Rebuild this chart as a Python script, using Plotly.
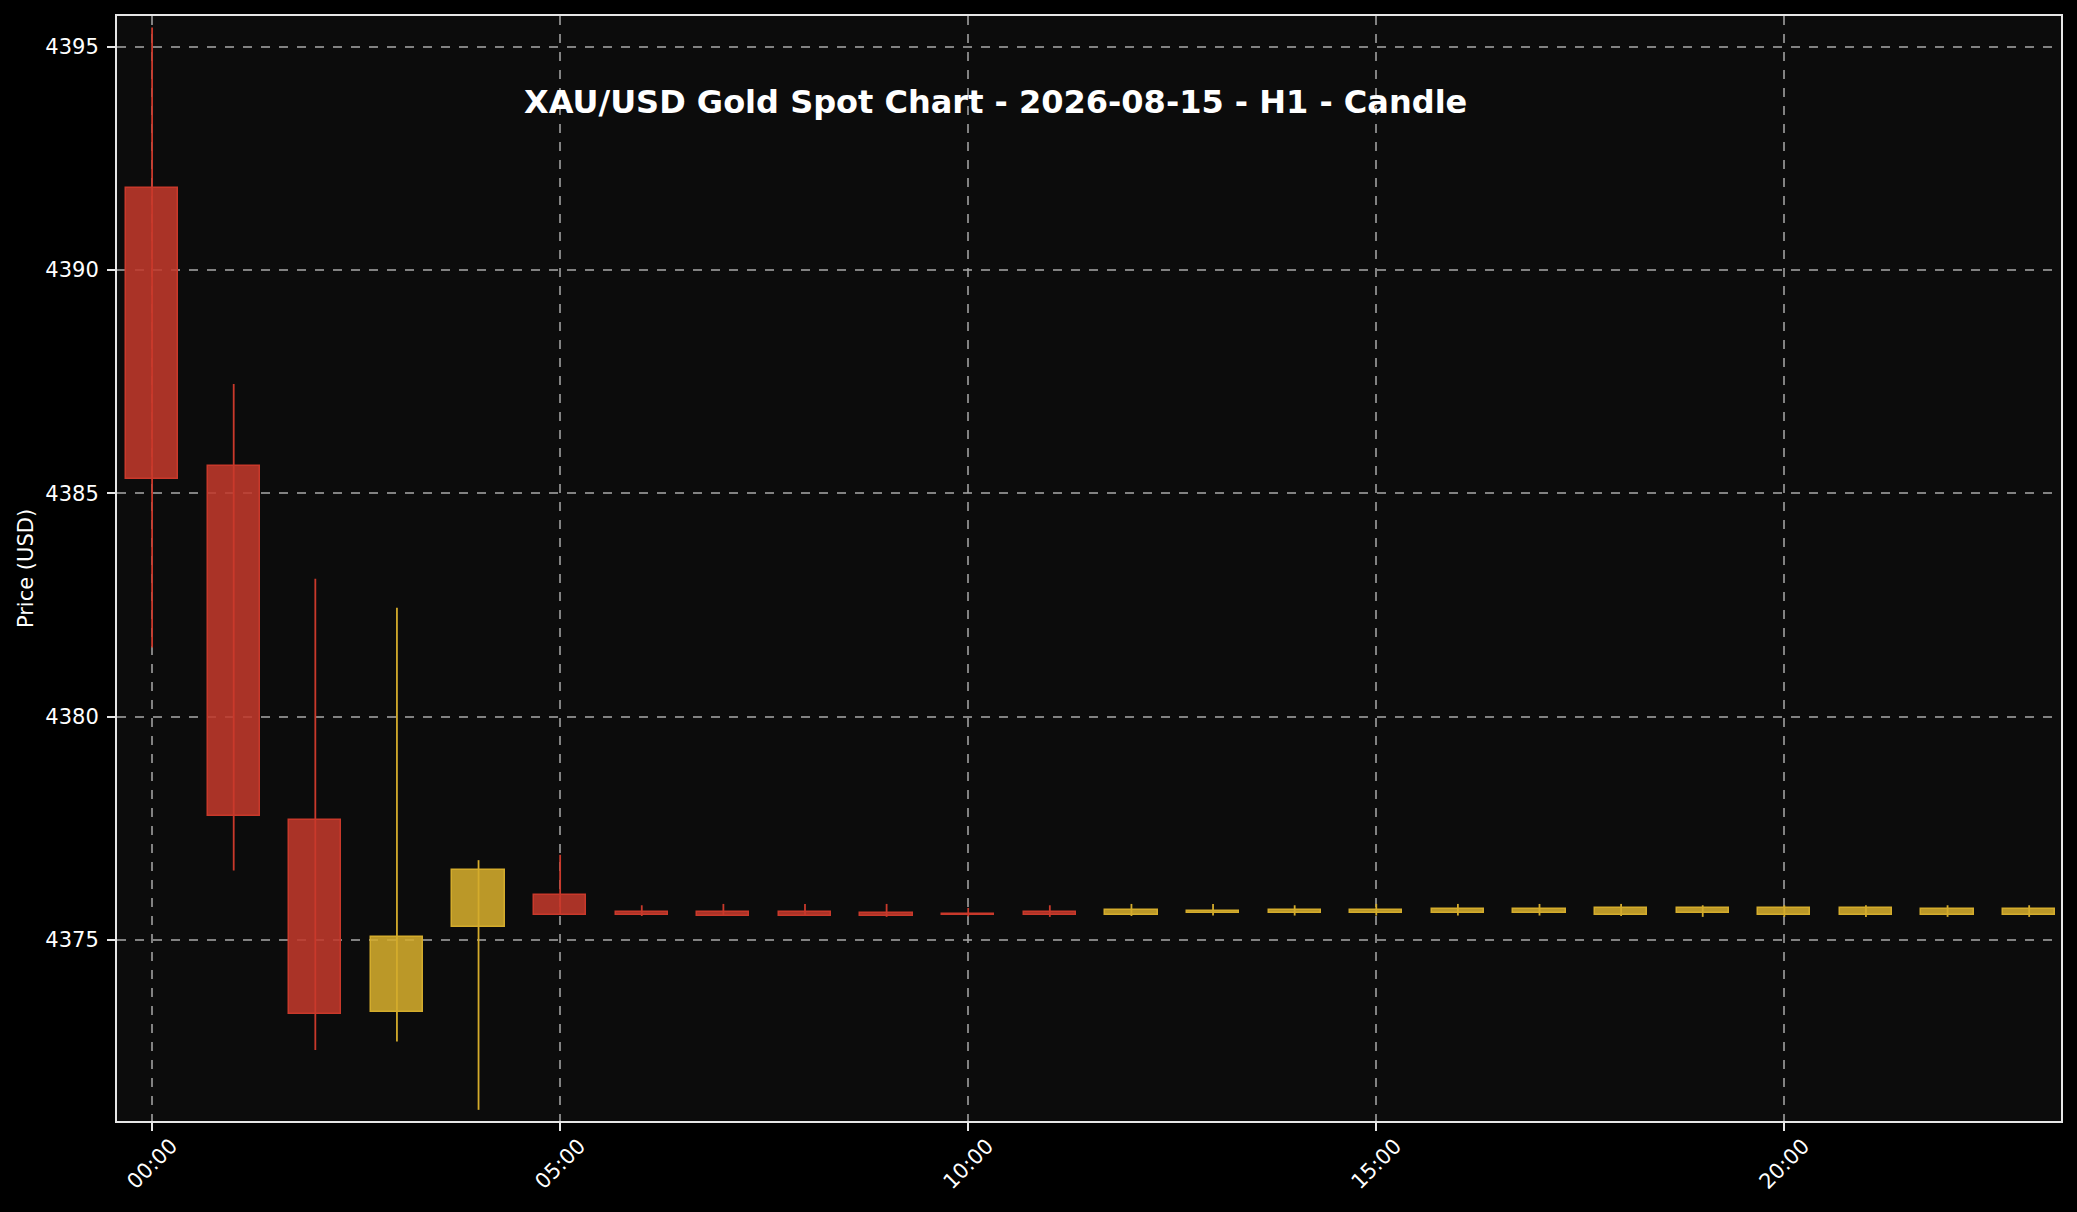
import numpy as np
import plotly.graph_objects as go

# hourly candles, 2026-08-15
hours = ["%02d:00" % h for h in range(24)]
open_ = [4391.83, 4385.61, 4377.70, 4373.39, 4375.29, 4376.02, 4375.63, 4375.63,
         4375.63, 4375.60, 4375.59, 4375.62, 4375.56, 4375.60, 4375.60, 4375.60,
         4375.60, 4375.60, 4375.56, 4375.60, 4375.56, 4375.56, 4375.56, 4375.56]
high = [4395.43, 4387.45, 4383.09, 4382.44, 4376.79, 4376.91, 4375.78, 4375.81,
        4375.81, 4375.81, 4375.72, 4375.78, 4375.81, 4375.81, 4375.78, 4375.81,
        4375.81, 4375.81, 4375.81, 4375.78, 4375.78, 4375.78, 4375.78, 4375.78]
low = [4381.55, 4376.56, 4372.54, 4372.73, 4371.20, 4375.57, 4375.54, 4375.54,
       4375.54, 4375.52, 4375.53, 4375.52, 4375.54, 4375.55, 4375.55, 4375.55,
       4375.55, 4375.55, 4375.54, 4375.52, 4375.52, 4375.52, 4375.52, 4375.52]
close = [4385.33, 4377.77, 4373.34, 4375.07, 4376.58, 4375.57, 4375.57, 4375.54,
         4375.54, 4375.54, 4375.57, 4375.57, 4375.67, 4375.65, 4375.67, 4375.67,
         4375.69, 4375.69, 4375.71, 4375.71, 4375.71, 4375.71, 4375.69, 4375.69]
tick_hours = ["00:00", "05:00", "10:00", "15:00", "20:00"]

UP_LINE = "#d4ac2c"
UP_FILL = "rgba(212,172,44,0.88)"
DN_LINE = "#c9392b"
DN_FILL = "rgba(192,57,43,0.88)"
FONT = "DejaVu Sans"

o = np.array(open_)
c = np.array(close)
up = c >= o

fig = go.Figure()

for mask, col in [(up, UP_LINE), (~up, DN_LINE)]:
    wx, wy = [], []
    for i in np.where(mask)[0]:
        wx += [hours[i], hours[i], None]
        wy += [low[i], high[i], None]
    fig.add_trace(go.Scatter(x=wx, y=wy, mode="lines",
                             line=dict(color=col, width=1.8),
                             showlegend=False, hoverinfo="skip"))

for mask, fill, col in [(up, UP_FILL, UP_LINE), (~up, DN_FILL, DN_LINE)]:
    idx = np.where(mask)[0]
    fig.add_trace(go.Bar(
        x=[hours[i] for i in idx],
        base=np.minimum(o, c)[idx],
        y=np.abs(c - o)[idx],
        width=0.64,
        marker=dict(color=fill, line=dict(color=col, width=1.5)),
        showlegend=False))

fig.add_annotation(text="<b>XAU/USD Gold Spot Chart - 2026-08-15 - H1 - Candle</b>",
                   xref="paper", yref="paper", x=0.4517, y=0.922,
                   xanchor="center", yanchor="middle", showarrow=False,
                   font=dict(size=32, color="white", family=FONT))

# rotated x labels centred under their ticks (matplotlib style)
for t in tick_hours:
    fig.add_annotation(text=t, x=t, y=0, xref="x", yref="paper",
                       xanchor="center", yanchor="top", yshift=-10,
                       textangle=-45, showarrow=False,
                       font=dict(size=21, color="white", family=FONT))

axis_common = dict(
    showline=True, mirror=True, linecolor="#e6e6e6", linewidth=2,
    showgrid=True, gridcolor="rgba(170,170,170,0.75)", gridwidth=1.5, griddash="dash",
    ticks="outside", ticklen=8, tickwidth=1.5, tickcolor="#e6e6e6",
    tickfont=dict(size=21, color="white", family=FONT),
    zeroline=False, automargin=False,
)

fig.update_xaxes(type="category", categoryorder="array", categoryarray=hours,
                 tickmode="array", tickvals=tick_hours, showticklabels=False,
                 range=[-0.43, 23.39], **axis_common)
fig.update_yaxes(range=[4370.95, 4395.69], tickmode="array",
                 tickvals=[4375, 4380, 4385, 4390, 4395], ticklabelstandoff=4,
                 title=dict(text="Price (USD)", standoff=6,
                            font=dict(size=21, color="white", family=FONT)),
                 **axis_common)

fig.update_layout(
    width=2077, height=1212,
    margin=dict(l=117, r=16, t=16, b=91),
    paper_bgcolor="black", plot_bgcolor="#0c0c0c",
    barmode="overlay", bargap=0,
    font=dict(family=FONT, color="white"),
)

fig.write_html("out.html", config={"displayModeBar": False},
               post_script="document.body.style.margin='0';"
                           "document.body.style.background='black';")
